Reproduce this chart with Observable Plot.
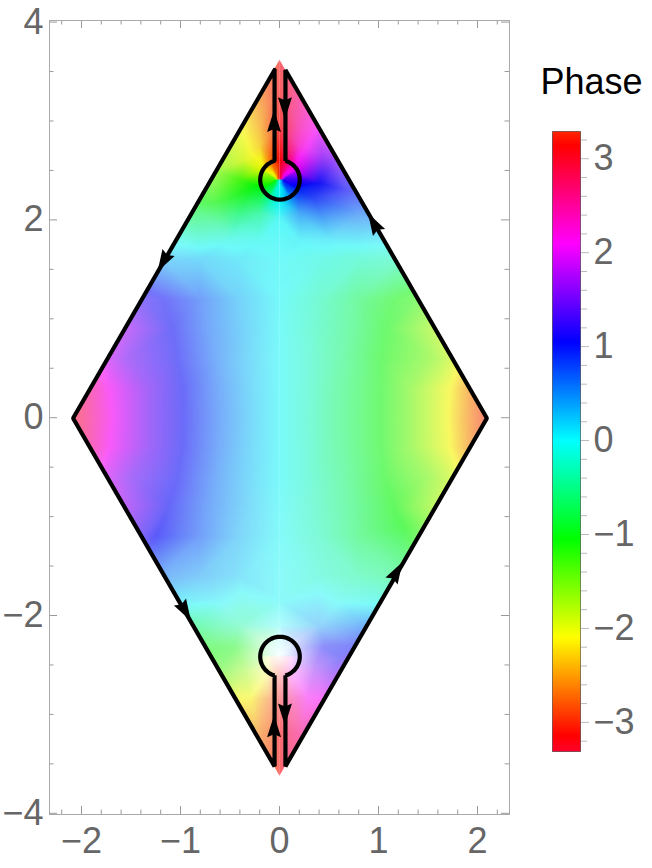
<!DOCTYPE html>
<html><head><meta charset="utf-8">
<style>html,body{margin:0;padding:0;background:#fff}#c{display:flex;width:652px;height:868px}svg{display:block;flex:none}</style>
<script src="https://cdn.jsdelivr.net/npm/d3@7"></script>
<script src="https://cdn.jsdelivr.net/npm/@observablehq/plot@0.6"></script>
</head><body><div id="c"></div><script>
// phase read at sample points, one line per row of the picture (top to bottom)
const leftX = [
 0,
 -.18,-.05,0,
 -.38,-.2,0,
 -.2,-.35,-.4,-.35,-.2,0,
 -.1,-.173,-.2,-.173,-.1,0,0,
 -.025,-.043,-.05,-.043,-.025,0,0,0,0,
 -.64,-.87,-.67,
 -1.04,-.5,-.2,0,
 -1.16,-.8,-.4,0,
 -1.4,-1.17,-.8,-.4,0,
 -1.57,-1.08,-.7,-.3,0,
 -1.75,-1.55,-1.03,-.6,-.25,0,
 -1.93,-1.72,-1.3,-.98,-.6,-.25,0,
 -2.09,-1.9,-1.69,-1.3,-.97,-.6,-.25,0,
 -1.93,-1.72,-1.3,-.98,-.6,-.25,0,
 -1.75,-1.5,-1.03,-.6,-.25,0,
 -1.57,-1.12,-.7,-.3,0,
 -1.4,-1.25,-.8,-.4,0,
 -1.16,-.8,-.4,0,
 -1.02,-.6,0,
 -.87,-.4,0,
 -.75,-.45,-.14,0,
 -.2,-.14,0,0,0,
 -.6,-.35,
 -.44,-.28,-.1,0,
 -.22,-.1,0,
 0
];
const leftY = [
 3.62,
 3.3,3.3,3.3,
 2.95,2.95,2.95,
 2.76,2.61,2.41,2.21,2.06,2.01,
 2.58,2.51,2.41,2.31,2.24,2.6,2.21,
 2.453,2.435,2.41,2.385,2.367,2.46,2.415,2.405,2.36,
 2.5,2.13,2.23,
 1.8,1.8,1.8,1.8,
 1.6,1.6,1.6,1.6,
 1.2,1.2,1.2,1.2,1.2,
 .9,.9,.9,.9,.9,
 .6,.6,.6,.6,.6,.6,
 .3,.3,.3,.3,.3,.3,.3,
 0,0,0,0,0,0,0,0,
 -.3,-.3,-.3,-.3,-.3,-.3,-.3,
 -.6,-.6,-.6,-.6,-.6,-.6,
 -.9,-.9,-.9,-.9,-.9,
 -1.2,-1.2,-1.2,-1.2,-1.2,
 -1.6,-1.6,-1.6,-1.6,
 -1.85,-1.85,-1.85,
 -2.1,-2.1,-2.1,
 -2.3,-2.3,-2.27,-2.21,
 -2.41,-2.55,-2.40,-2.42,-2.61,
 -2.55,-2.55,
 -2.85,-2.85,-2.85,-2.85,
 -3.2,-3.2,-3.2,
 -3.62
];
const leftPhase = [
 -3.1,
 -2.7,-3,-3.14,
 -2.1,-2.45,-3.14,
 -2.3,-1.95,-1.3,-.9,-.45,0,
 -2.6,-2.0,-1.4,-.9,-.45,-3.14,0,
 -2.6,-2.0,-1.4,-.9,-.45,-3.14,-3.14,0,0,
 -1.55,-.9,-1.2,
 -.1,-.1,-.05,0,
 .3,.25,.12,0,
 1.25,1.05,.7,.3,0,
 1.75,1.05,.62,.25,0,
 1.9,1.55,1.05,.55,.2,0,
 2.6,2.1,1.45,1.05,.6,.21,0,
 3,2.55,2.1,1.45,1.05,.62,.22,0,
 2.6,2.1,1.45,1.05,.6,.21,0,
 1.9,1.5,1.05,.55,.2,0,
 1.7,1.05,.62,.25,0,
 1.25,1.05,.7,.3,0,
 .55,.4,.2,0,
 .1,.05,0,
 -.55,-.4,0,
 -1,-1,-.8,0,
 -1.3,-2,0,-3.14,-3.14,
 -1.3,-1.6,
 -2.1,-2.15,-2.7,-3.14,
 -2.6,-2.8,-3.14,
 -3.1
];
const leftAlpha = [
 .6,
 .62,.62,.62,
 .65,.68,.72,
 .75,.8,.92,.85,.72,.66,
 1,1,1,1,1,1,1,
 1,1,1,1,1,1,1,1,1,
 .68,.6,.68,
 .52,.58,.6,.6,
 .52,.55,.56,.56,
 .55,.55,.55,.54,.54,
 .58,.57,.54,.53,.53,
 .6,.58,.57,.53,.52,.52,
 .6,.65,.6,.58,.53,.52,.52,
 .55,.6,.65,.6,.58,.53,.52,.52,
 .6,.65,.6,.58,.53,.52,.52,
 .6,.58,.58,.53,.52,.52,
 .6,.6,.54,.5,.5,
 .6,.65,.55,.5,.48,
 .52,.5,.48,.45,
 .52,.47,.45,
 .55,.42,.3,
 .5,.45,.15,.15,
 .2,.25,.03,.03,.25,
 .5,.42,
 .58,.55,.45,.42,
 .58,.58,.58,
 .6
];
const rightX = [
 0,
 0,.05,.18,
 0,.2,.38,
 .2,.44,.4,.35,.2,0,
 .1,.173,.2,.173,.1,0,0,
 .025,.043,.05,.043,.025,0,0,0,0,
 .56,.68,.81,
 1.04,.5,.2,0,
 1.16,.8,.4,0,
 1.4,1.17,.8,.4,0,
 1.57,1.08,.7,.3,0,
 1.75,1.55,1.03,.6,.25,0,
 1.93,1.72,1.3,1.03,.6,.25,0,
 2.09,1.9,1.7,1.3,1.02,.6,.25,0,
 1.93,1.72,1.3,1.03,.6,.25,0,
 1.75,1.5,1.06,.6,.25,0,
 1.57,1.15,.7,.3,0,
 1.4,1.25,.8,.4,0,
 1.16,.8,.4,0,
 1.02,.6,0,
 .87,.4,0,
 .75,.45,.14,0,
 .2,.14,0,0,0,
 .61,.35,
 .44,.28,.1,0,
 .22,.1,0,
 0
];
const rightY = [
 3.62,
 3.3,3.3,3.3,
 2.95,2.95,2.95,
 2.76,2.64,2.37,2.21,2.06,2.01,
 2.58,2.51,2.41,2.31,2.24,2.6,2.21,
 2.453,2.435,2.41,2.385,2.367,2.46,2.415,2.405,2.36,
 2.64,2.3,2.07,
 1.8,1.8,1.8,1.8,
 1.6,1.6,1.6,1.6,
 1.2,1.2,1.2,1.2,1.2,
 .9,.9,.9,.9,.9,
 .6,.6,.6,.6,.6,.6,
 .3,.3,.3,.3,.3,.3,.3,
 0,0,0,0,0,0,0,0,
 -.3,-.3,-.3,-.3,-.3,-.3,-.3,
 -.6,-.6,-.6,-.6,-.6,-.6,
 -.9,-.9,-.9,-.9,-.9,
 -1.1,-1.1,-1.2,-1.2,-1.2,
 -1.6,-1.6,-1.6,-1.6,
 -1.85,-1.85,-1.85,
 -2.1,-2.1,-2.1,
 -2.3,-2.3,-2.27,-2.21,
 -2.41,-2.55,-2.40,-2.42,-2.61,
 -2.41,-2.55,
 -2.85,-2.82,-2.85,-2.85,
 -3.2,-3.2,-3.2,
 -3.62
];
const rightPhase = [
 3.1,
 3.14,3,2.7,
 3.14,2.45,2.1,
 2.3,1.6,1.05,.9,.45,0,
 2.6,2,1.3,.9,.45,3.14,0,
 2.6,2,1.3,.9,.45,3.14,3.14,0,0,
 1.6,1.05,.6,
 .1,.1,.05,0,
 -.3,-.25,-.12,0,
 -1.25,-1.05,-.7,-.3,0,
 -1.75,-1.05,-.62,-.25,0,
 -1.9,-1.55,-1.05,-.55,-.2,0,
 -2.6,-2.09,-1.45,-1.05,-.6,-.21,0,
 -3,-2.55,-2.09,-1.45,-1.05,-.62,-.22,0,
 -2.6,-2.09,-1.45,-1.05,-.6,-.21,0,
 -1.9,-1.5,-1.05,-.55,-.2,0,
 -1.7,-1.05,-.62,-.25,0,
 -1.25,-1.05,-.7,-.3,0,
 -.55,-.4,-.2,0,
 -.1,-.05,0,
 .55,.4,0,
 1,1,.8,0,
 1.3,2,0,3.14,3.14,
 1.05,1.6,
 2.1,2.1,2.7,3.14,
 2.6,2.8,3.14,
 3.1
];
const rightAlpha = [
 .6,
 .62,.62,.62,
 .72,.68,.65,
 .75,.75,.92,.82,.72,.66,
 1,1,1,1,1,1,1,
 1,1,1,1,1,1,1,1,1,
 .68,.64,.58,
 .52,.58,.6,.6,
 .52,.55,.56,.56,
 .55,.55,.55,.54,.54,
 .58,.57,.54,.53,.53,
 .6,.58,.57,.53,.52,.52,
 .6,.62,.58,.56,.53,.52,.52,
 .55,.6,.62,.58,.56,.53,.52,.52,
 .6,.62,.58,.56,.53,.52,.52,
 .6,.58,.58,.53,.52,.52,
 .6,.62,.54,.5,.5,
 .62,.65,.55,.5,.48,
 .52,.5,.48,.45,
 .52,.47,.45,
 .55,.42,.3,
 .5,.45,.15,.15,
 .2,.25,.03,.03,.25,
 .48,.42,
 .55,.5,.45,.42,
 .58,.58,.58,
 .6
];

const phaseStops = [-3.31,-Math.PI,-2.094,-1.047,0,1.047,2.094,Math.PI,3.29];
const barColors  = ["#ff002b","#ff0000","#ffff00","#00ff00","#00ffff","#0000ff","#ff00ff","#ff0000","#ff2600"];
const plotColors = ["#f50029","#f50000","#f5f500","#00f500","#00f5f5","#0000f5","#f500f5","#f50000","#f52400"];

const diamondX = [-.055,-2.09,-.055,-.055];
const diamondY = [3.52,0,-3.52,-2.6];
const rightEdgeX = [.055,.055,2.09,.055,.055];
const rightEdgeY = [-2.6,-3.52,0,3.52,2.6];
const loopCenter = [-2.41,2.41];
const loopRadius = .2;
const stemGap = .055;

const arrowX = [-.055,.055,-.055,.055,.95,-1.176,-.95,1.187];
const arrowY = [3.0,3.13,-3.12,-3.0,1.97,1.575,-1.96,-1.556];
const arrowTurn = [0,180,0,180,-30,210,150,30];

const xLo = -230/99, xHi = 230/99, yLo = -4.012, yHi = 4.016;
const maskX = [xLo,xHi,xHi,xLo,xLo,-2.09,0,2.09,0,-2.09,xLo];
const maskY = [yHi,yHi,yLo,yLo,0,0,-3.62,0,3.62,0,0];

const xLabels = [-2,-1,0,1,2];
const yLabels = [-4,-2,0,2,4];
const xMajor = [-2,-1,0,1,2];
const xMinor = [-2.2,-1.8,-1.6,-1.4,-1.2,-.8,-.6,-.4,-.2,.2,.4,.6,.8,1.2,1.4,1.6,1.8,2.2];
const yMajor = [-4,-2,0,2,4];
const yMinor = [-3.5,-3,-2.5,-1.5,-1,-.5,.5,1,1.5,2.5,3,3.5];
const barLabels = [-3,-2,-1,0,1,2,3];
const barMinor = [-3.2,-2.8,-2.6,-2.4,-2.2,-1.8,-1.6,-1.4,-1.2,-.8,-.6,-.4,-.2,.2,.4,.6,.8,1.2,1.4,1.6,1.8,2.2,2.4,2.6,2.8,3.2];

const font = "Liberation Sans, Arial, sans-serif";
const H = 868, mT = 20, mB = 54, W = 520, mL = 49, mR = 11;
const innerH = H-mT-mB, innerW = W-mL-mR;
const label = d => String(d).replace("-","\u2212");

const left = leftX.map((x,i)=>({x,y:leftY[i],p:leftPhase[i],a:leftAlpha[i]}));
const right = rightX.map((x,i)=>({x,y:rightY[i],p:rightPhase[i],a:rightAlpha[i]}));
const mask = maskX.map((x,i)=>({x,y:maskY[i]}));

// closed contour: edges plus the two keyhole loops
const gapAngle = Math.asin(stemGap/loopRadius);
const arcSteps = d3.range(0,49).map(k=>gapAngle+(2*Math.PI-2*gapAngle)*k/48);
const lower = arcSteps.map(t=>[-Math.sin(t)*loopRadius, loopCenter[0]-Math.cos(t)*loopRadius]);
const upper = arcSteps.map(t=>[Math.sin(t)*loopRadius, loopCenter[1]+Math.cos(t)*loopRadius]);
const contour = [
  ...diamondX.map((x,i)=>[x,diamondY[i]]),
  ...lower,
  ...rightEdgeX.map((x,i)=>[x,rightEdgeY[i]]),
  ...upper,
  [-stemGap,diamondY[0]]
];

const arrowShape = {draw(ctx,l){
  const w = 7;
  ctx.moveTo(0,-l);
  ctx.lineTo(w,0);
  ctx.lineTo(0,-3);
  ctx.lineTo(-w,0);
  ctx.closePath();
}};

const tickStyle = {stroke:"#999",strokeWidth:1};
const main = Plot.plot({
  width:W,height:H,marginLeft:mL,marginRight:mR,marginTop:mT,marginBottom:mB,
  style:{background:"transparent",fontFamily:font},
  x:{domain:[xLo,xHi],axis:null},
  y:{domain:[yLo,yHi],axis:null},
  color:{type:"linear",domain:phaseStops,range:plotColors},
  opacity:{domain:[0,1],range:[0,1]},
  marks:[
    Plot.raster(left,{x:"x",y:"y",fill:"p",fillOpacity:"a",interpolate:"barycentric",x1:xLo,x2:0,y1:yLo,y2:yHi}),
    Plot.raster(right,{x:"x",y:"y",fill:"p",fillOpacity:"a",interpolate:"barycentric",x1:0,x2:xHi,y1:yLo,y2:yHi}),
    Plot.line(mask,{x:"x",y:"y",fill:"white",stroke:"none"}),
    Plot.line(contour,{x:d=>d[0],y:d=>d[1],stroke:"black",strokeWidth:4.2,strokeLinejoin:"bevel",dx:.5,dy:.5}),
    Plot.vector(arrowX.map((x,i)=>({x,y:arrowY[i],r:arrowTurn[i]})),{x:"x",y:"y",rotate:"r",length:22,anchor:"middle",shape:arrowShape,fill:"black",stroke:"none"}),
    Plot.tickX(xMajor,{x:d=>d,insetTop:innerH-8,...tickStyle}),
    Plot.tickX(xMinor,{x:d=>d,insetTop:innerH-4.5,...tickStyle}),
    Plot.tickX(xMajor,{x:d=>d,insetBottom:innerH-8,...tickStyle}),
    Plot.tickX(xMinor,{x:d=>d,insetBottom:innerH-4.5,...tickStyle}),
    Plot.tickY(yMajor,{y:d=>d,insetRight:innerW-8,...tickStyle}),
    Plot.tickY(yMinor,{y:d=>d,insetRight:innerW-4.5,...tickStyle}),
    Plot.tickY(yMajor,{y:d=>d,insetLeft:innerW-8,...tickStyle}),
    Plot.tickY(yMinor,{y:d=>d,insetLeft:innerW-4.5,...tickStyle}),
    Plot.frame({stroke:"#aaa",strokeWidth:1}),
    Plot.axisX({ticks:xLabels,tickFormat:label,tickSize:0,tickPadding:13,fontSize:36,color:"#666",label:null,anchor:"bottom"}),
    Plot.axisY({ticks:yLabels,tickFormat:label,tickSize:0,tickPadding:6,fontSize:36,color:"#666",label:null,anchor:"left"})
  ]
});

const bar = Plot.plot({
  width:132,height:H,marginLeft:32,marginRight:72,marginTop:131,marginBottom:117,
  style:{background:"transparent",fontFamily:font},
  x:{domain:[0,1],axis:null},
  y:{domain:[-3.31,3.29],axis:null},
  color:{type:"linear",domain:phaseStops,range:barColors},
  marks:[
    Plot.raster({fill:(x,y)=>y,x1:0,x2:1,y1:-3.31,y2:3.29,pixelSize:1}),
    Plot.frame({stroke:"#000",strokeOpacity:.45,strokeWidth:1}),
    Plot.axisY({anchor:"right",ticks:barMinor,tickSize:6,text:null,label:null,stroke:"#bbb"}),
    Plot.axisY({anchor:"right",ticks:barLabels,tickFormat:label,tickSize:8,tickPadding:5,fontSize:36,color:"#666",label:null,stroke:"#bbb"}),
    Plot.text(["Phase"],{frameAnchor:"top",dy:-38,x:.5,y:3.29,fontSize:36,fill:"black",textAnchor:"middle",lineAnchor:"bottom",dx:25})
  ]
});
document.getElementById("c").append(main,bar);
</script></body></html>
